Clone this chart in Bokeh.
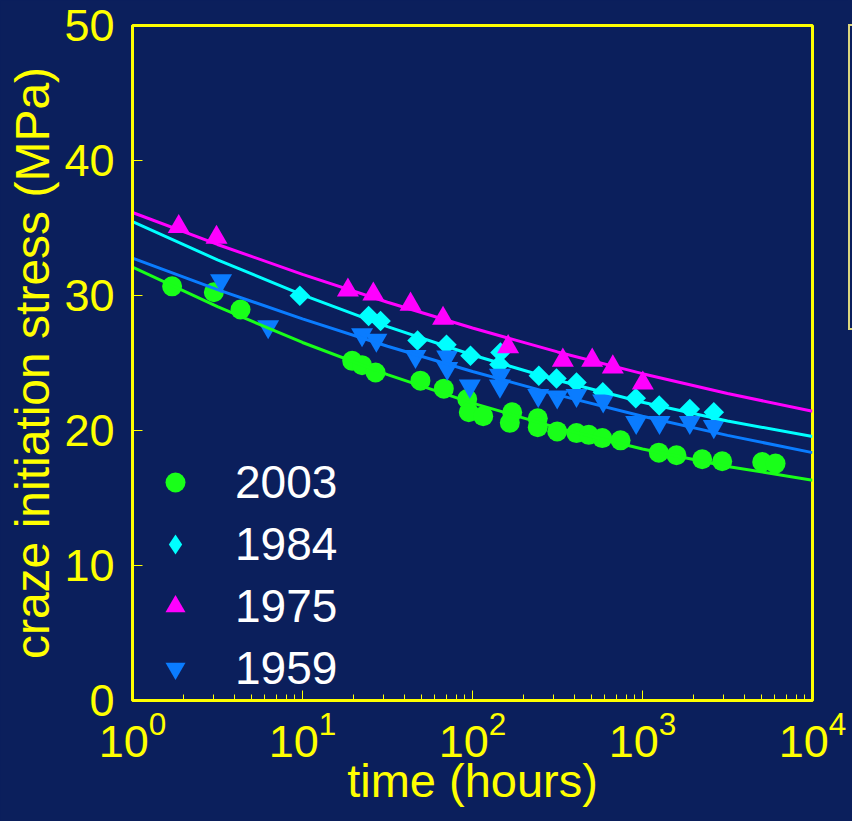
import numpy as np
from bokeh.plotting import figure
from bokeh.layouts import row
from bokeh.models import (Range1d, FixedTicker, Legend, LegendItem, ColumnDataSource, Div)
from bokeh.embed import file_html
from bokeh.resources import INLINE

# ---------------- data ----------------
series_names = ["2003", "1984", "1975", "1959"]

hours_2003 = [1.71, 3.01, 4.32, 19.6, 22.4, 26.9, 49.4, 67.8, 93.1, 95.1, 115.6, 165.8, 171.2,
              242, 242, 315, 409, 483, 580, 743, 1247, 1585, 2245, 2943, 5060, 6060]
stress_2003 = [30.68, 30.24, 28.96, 25.16, 24.84, 24.30, 23.69, 23.10, 22.33, 21.35, 21.06, 20.57, 21.35,
               20.91, 20.25, 19.93, 19.81, 19.68, 19.44, 19.27, 18.36, 18.17, 17.87, 17.72, 17.67, 17.55]

hours_1984 = [9.64, 24.5, 28.8, 47.5, 70.3, 97.3, 146, 144, 245.5, 312, 409, 584, 913, 1254, 1898, 2627]
stress_1984 = [29.99, 28.48, 28.11, 26.66, 26.36, 25.53, 25.77, 24.89, 24.06, 23.86, 23.56, 22.83,
               22.39, 21.85, 21.60, 21.35]

hours_1975 = [1.87, 3.12, 18.5, 26.1, 43.2, 67.1, 162, 340, 506, 669, 1004]
stress_1975 = [35.1, 34.3, 30.4, 30.1, 29.35, 28.3, 26.2, 25.2, 25.2, 24.7, 23.5]

hours_1959 = [3.32, 6.28, 22.4, 27.2, 46.2, 71, 71, 96.4, 145, 145, 243.5, 315, 409, 587, 918, 1259, 1898, 2627]
stress_1959 = [31.1, 27.7, 27.1, 26.7, 25.5, 25.45, 24.6, 23.3, 24.1, 23.3, 22.6, 22.5, 22.6, 22.2,
               20.6, 20.6, 20.6, 20.3]

# fitted curves, read at half-decade points
fit_hours = [1, 3.162, 10, 31.62, 100, 316.2, 1000, 3162, 10000]
fit_2003 = [32.1, 29.17, 26.52, 24.14, 22.03, 20.19, 18.63, 17.34, 16.32]
fit_1984 = [35.47, 32.64, 30.05, 27.69, 25.59, 23.72, 22.09, 20.70, 19.56]
fit_1975 = [36.15, 33.78, 31.57, 29.50, 27.59, 25.82, 24.21, 22.74, 21.43]
fit_1959 = [32.77, 30.44, 28.27, 26.24, 24.37, 22.64, 21.06, 19.64, 18.36]

x_major_ticks = [1, 10, 100, 1000, 10000]
y_major_ticks = [0, 10, 20, 30, 40, 50]

# ---------------- style ----------------
BG = "#0b1f5c"
YEL = "#ffff00"
WHITE = "#ffffff"
FONT = "Liberation Sans"
GREEN = "#19ff19"
CYAN = "#00ffff"
MAGENTA = "#ff00ff"
BLUE = "#0a7cff"

p = figure(width=848, height=821, x_axis_type="log",
           x_range=Range1d(1, 1e4), y_range=Range1d(0, 50),
           output_backend="svg", toolbar_location=None,
           min_border_left=132, min_border_right=36, min_border_top=25, min_border_bottom=121)

p.background_fill_color = BG
p.border_fill_color = BG
p.outline_line_color = YEL
p.outline_line_width = 3
p.xgrid.visible = False
p.ygrid.visible = False

minor = [m * 10 ** e for e in range(4) for m in range(2, 10)]
p.xaxis.ticker = FixedTicker(ticks=x_major_ticks, minor_ticks=minor)
p.yaxis.ticker = FixedTicker(ticks=y_major_ticks)

for ax in (p.xaxis[0], p.yaxis[0]):
    ax.axis_line_color = YEL
    ax.axis_line_width = 3
    ax.major_tick_line_color = YEL
    ax.major_tick_line_width = 1
    ax.major_tick_in = 10
    ax.major_tick_out = 0
    ax.minor_tick_line_color = YEL
    ax.minor_tick_line_width = 1
    ax.minor_tick_in = 6
    ax.minor_tick_out = 0
    ax.major_label_text_color = YEL
    ax.major_label_text_font = FONT
    ax.major_label_text_font_size = "45px"
    ax.axis_label_text_color = YEL
    ax.axis_label_text_font = FONT
    ax.axis_label_text_font_style = "normal"

p.yaxis.minor_tick_line_color = None
p.xaxis.axis_label = "time (hours)"
p.yaxis.axis_label = "craze initiation stress (MPa)"
p.xaxis.axis_label_text_font_size = "47px"
p.yaxis.axis_label_text_font_size = "48px"
p.xaxis.major_label_standoff = 10
p.yaxis.major_label_standoff = 18
p.xaxis.axis_label_standoff = -6
p.yaxis.axis_label_standoff = 2

# ---------------- markers ----------------
src_2003 = ColumnDataSource(dict(x=hours_2003, y=stress_2003))
src_1984 = ColumnDataSource(dict(x=hours_1984, y=stress_1984))
src_1975 = ColumnDataSource(dict(x=hours_1975, y=stress_1975))
src_1959 = ColumnDataSource(dict(x=hours_1959, y=stress_1959))

r2003 = p.scatter("x", "y", source=src_2003, marker="circle", size=20, fill_color=GREEN, line_color=None)
r1984 = p.scatter("x", "y", source=src_1984, marker="square", angle=np.pi / 4, size=14.5,
                  fill_color=CYAN, line_color=None)
r1975 = p.scatter("x", "y", source=src_1975, marker="triangle", size=22, fill_color=MAGENTA, line_color=None)
r1959 = p.scatter("x", "y", source=src_1959, marker="inverted_triangle", size=22, fill_color=BLUE,
                  line_color=None)

# hidden renderer that only supplies the diamond glyph of the legend
r1984_leg = p.scatter("x", "y", source=src_1984, marker="diamond", size=20, fill_color=CYAN,
                      line_color=None, visible=False)

# ---------------- fit lines ----------------
p.line(fit_hours, fit_2003, line_color=GREEN, line_width=3)
p.line(fit_hours, fit_1984, line_color=CYAN, line_width=3)
p.line(fit_hours, fit_1975, line_color=MAGENTA, line_width=3)
p.line(fit_hours, fit_1959, line_color=BLUE, line_width=3)

# ---------------- legend ----------------
legend = Legend(items=[LegendItem(label=series_names[0], renderers=[r2003]),
                       LegendItem(label=series_names[1], renderers=[r1984_leg]),
                       LegendItem(label=series_names[2], renderers=[r1975]),
                       LegendItem(label=series_names[3], renderers=[r1959])],
                location=(18, 5), padding=0, margin=0, spacing=8,
                glyph_width=50, glyph_height=50, label_standoff=35,
                label_text_font=FONT, label_text_font_size="46px", label_text_color=WHITE,
                background_fill_alpha=0, border_line_alpha=0)
p.add_layout(legend)

# partially visible frame of a second panel at the right edge of the page
side = Div(text="", width=4, height=306, margin=(24, 0, 0, 0),
           styles={"border-top": "2px solid #dcd67e", "border-bottom": "2px solid #dcd67e",
                   "border-left": "2px solid #dcd67e", "box-sizing": "border-box"})

layout = row(p, side, spacing=0, styles={"background-color": BG})

open("out.html", "w").write(file_html(layout, INLINE))
